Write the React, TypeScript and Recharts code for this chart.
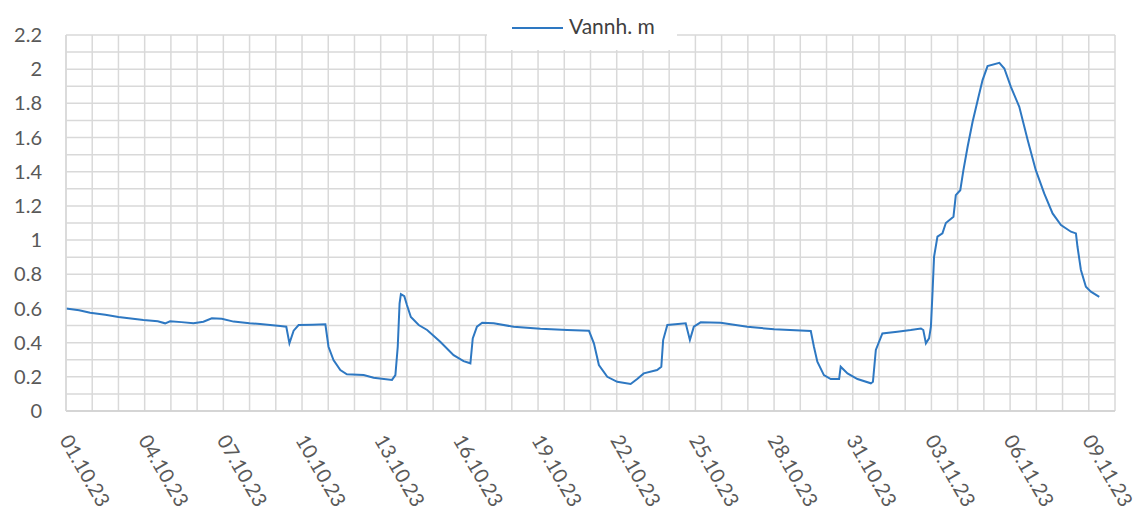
import React from "react";
import { CartesianGrid, Legend, Line, LineChart, XAxis, YAxis } from "recharts";

// days since 01.10.23 and water level (m)
const days = [
  0, 0.5, 0.92, 1.5, 2.0, 2.95, 3.5, 3.78, 3.97, 4.4, 4.86, 5.24, 5.56, 5.94, 6.39, 7.0, 7.4, 8.17, 8.4, 8.52,
  8.68, 8.87, 9.4, 9.89, 10.01, 10.2, 10.46, 10.71, 11.35, 11.73, 12.43, 12.56, 12.65, 12.72, 12.77, 12.9, 13.0,
  13.15, 13.45, 13.77, 14.27, 14.78, 15.16, 15.42, 15.51, 15.67, 15.87, 16.31, 17.07, 18.09, 19.11, 19.94, 20.13,
  20.32, 20.64, 21.02, 21.53, 21.78, 22.03, 22.54, 22.7, 22.77, 22.93, 23.63, 23.79, 23.94, 24.2, 24.96, 25.98,
  27.0, 28.4, 28.52, 28.65, 28.9, 29.16, 29.48, 29.54, 29.8, 30.18, 30.69, 30.77, 30.88, 31.13, 31.7, 32.21, 32.6,
  32.69, 32.79, 32.91, 32.98, 33.04, 33.1, 33.23, 33.42, 33.55, 33.84, 33.93, 34.1, 34.22, 34.38, 34.57, 34.78,
  34.95, 35.14, 35.59, 35.78, 36.03, 36.35, 36.67, 36.98, 37.3, 37.62, 37.94, 38.32, 38.51, 38.57, 38.7, 38.89,
  39.08, 39.4,
];

const level = [
  0.6, 0.59, 0.575, 0.563, 0.55, 0.532, 0.525, 0.513, 0.525, 0.52, 0.513, 0.522, 0.542, 0.54, 0.523, 0.513, 0.509,
  0.497, 0.493, 0.396, 0.47, 0.503, 0.505, 0.507, 0.376, 0.298, 0.24, 0.215, 0.21, 0.195, 0.182, 0.21, 0.376, 0.63,
  0.684, 0.672, 0.62, 0.55, 0.503, 0.474, 0.405, 0.327, 0.292, 0.279, 0.425, 0.493, 0.516, 0.513, 0.493, 0.481,
  0.474, 0.47, 0.396, 0.269, 0.2, 0.171, 0.158, 0.187, 0.22, 0.24, 0.259, 0.415, 0.503, 0.513, 0.415, 0.493, 0.519,
  0.516, 0.493, 0.478, 0.468, 0.376, 0.288, 0.21, 0.187, 0.187, 0.259, 0.22, 0.187, 0.162, 0.171, 0.357, 0.454,
  0.464, 0.474, 0.483, 0.474, 0.396, 0.425, 0.493, 0.688, 0.902, 1.02, 1.04, 1.1, 1.136, 1.263, 1.292, 1.409, 1.546,
  1.692, 1.829, 1.936, 2.018, 2.037, 2.004, 1.897, 1.78, 1.585, 1.409, 1.273, 1.156, 1.088, 1.049, 1.039, 0.961,
  0.825, 0.727, 0.698, 0.668,
];

const dateTicks = [0, 3, 6, 9, 12, 15, 18, 21, 24, 27, 30, 33, 36, 39];
const dateLabels = [
  "01.10.23", "04.10.23", "07.10.23", "10.10.23", "13.10.23", "16.10.23", "19.10.23",
  "22.10.23", "25.10.23", "28.10.23", "31.10.23", "03.11.23", "06.11.23", "09.11.23",
];
const levelTicks = [0, 0.2, 0.4, 0.6, 0.8, 1, 1.2, 1.4, 1.6, 1.8, 2, 2.2];

const dayGrid = Array.from({ length: 41 }, (_, i) => i);
const levelGrid = Array.from({ length: 23 }, (_, i) => Math.round(i * 10) / 100);

const data = days.map((d, i) => ({ day: d, level: level[i] }));

const FONT = "Lato, 'Liberation Sans', sans-serif";
const BLUE = "#2E78C2";

function DateTick({ x, y, payload }: { x?: number; y?: number; payload?: { value: number } }) {
  const idx = dateTicks.indexOf(payload?.value ?? -1);
  if (idx < 0) return null;
  return (
    <text
      transform={`translate(${(x ?? 0) - 7},${(y ?? 0) + 29}) rotate(60)`}
      textAnchor="start"
      fontSize={20}
      fontFamily={FONT}
      fill="#595959"
    >
      {dateLabels[idx]}
    </text>
  );
}

function LegendBox() {
  return (
    <div style={{ background: "#fff", width: 190, height: 50 }}>
      <svg width={190} height={50}>
        <line x1={25} x2={76} y1={28} y2={28} stroke={BLUE} strokeWidth={2} />
        <text x={82} y={34} fontSize={21} fontFamily={FONT} fill="#404040">
          Vannh. m
        </text>
      </svg>
    </div>
  );
}

export default function App() {
  return (
    <div style={{ width: 1140, height: 514, background: "#fff" }}>
      <style>{`body{margin:0}`}</style>
      <LineChart width={1140} height={514} data={data} margin={{ top: 35, right: 25, left: 10, bottom: 0 }}>
        <CartesianGrid stroke="#D9D9D9" strokeWidth={1.5} horizontalValues={levelGrid} verticalValues={dayGrid} />
        <XAxis
          dataKey="day"
          type="number"
          domain={[0, 40]}
          ticks={dateTicks}
          interval={0}
          height={103}
          tickSize={0}
          tickMargin={0}
          tickLine={false}
          axisLine={{ stroke: "#D0D0D0", strokeWidth: 1.5 }}
          tick={<DateTick />}
        />
        <YAxis
          type="number"
          domain={[0, 2.2]}
          ticks={levelTicks}
          interval={0}
          width={56}
          tickSize={0}
          tickMargin={24}
          tickLine={false}
          axisLine={{ stroke: "#D9D9D9", strokeWidth: 1.5 }}
          tick={{ fontSize: 20, fontFamily: FONT, fill: "#595959" }}
        />
        <Legend
          layout="vertical"
          align="center"
          verticalAlign="middle"
          content={<LegendBox />}
          wrapperStyle={{ left: 487, top: 0, width: 190, height: 50 }}
        />
        <Line
          type="linear"
          dataKey="level"
          name="Vannh. m"
          stroke={BLUE}
          strokeWidth={2}
          dot={false}
          activeDot={false}
          isAnimationActive={false}
        />
      </LineChart>
    </div>
  );
}
